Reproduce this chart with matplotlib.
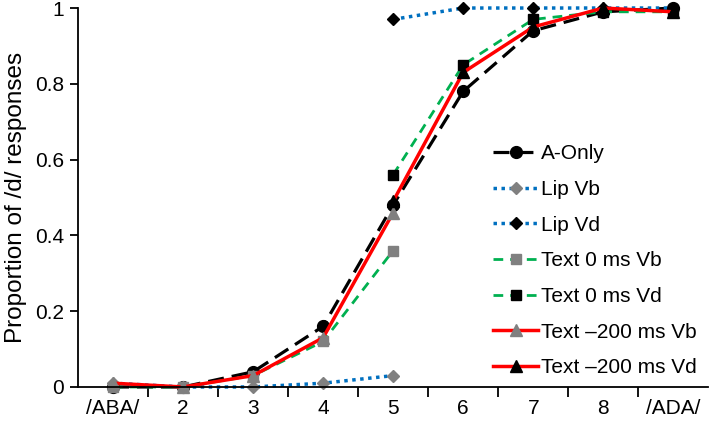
import numpy as np
import matplotlib.pyplot as plt

plt.rcParams['font.family'] = ['Liberation Sans', 'DejaVu Sans']

# Continuum steps
categories = ['/ABA/', '2', '3', '4', '5', '6', '7', '8', '/ADA/']
steps = np.arange(1, 10)

a_only = [0.0, 0.0, 0.04, 0.16, 0.48, 0.78, 0.94, 0.99, 1.0]
lip_vb = [0.01, 0.0, 0.0, 0.01, 0.03]
lip_vd = [0.97, 1.0, 1.0, 1.0, 1.0]
text0_vb = [0.0, 0.0, 0.03, 0.12, 0.36]
text0_vd = [0.56, 0.85, 0.97, 0.99, 0.99]
text200_vb = [0.01, 0.0, 0.03, 0.13, 0.46]
text200_vd = [0.49, 0.83, 0.95, 1.0, 0.99]

vb_steps = steps[:5]
vd_steps = steps[4:]

fig = plt.figure(figsize=(7.09, 4.22), dpi=100)
ax = fig.add_axes([0.110, 0.083, 0.889, 0.898])

gray = '#808080'
blue = '#0070C0'
green = '#00B050'
red = '#FF0000'

ax.plot(steps, a_only, color='black', ls=(0, (5, 2.5)), lw=2.3, marker='o', ms=8.5,
        mfc='black', mec='black', label='A-Only', clip_on=False)
ax.plot(vb_steps, lip_vb, color=blue, ls=(0, (1, 1.3)), lw=2.5, marker='D', ms=6.5,
        mfc=gray, mec=gray, label='Lip Vb', clip_on=False)
ax.plot(vd_steps, lip_vd, color=blue, ls=(0, (1, 1.3)), lw=2.5, marker='D', ms=6.5,
        mfc='black', mec='black', label='Lip Vd', clip_on=False)
ax.plot(vb_steps, text0_vb, color=green, ls=(0, (3.5, 2.5)), lw=2, marker='s', ms=7.5,
        mfc=gray, mec=gray, label='Text 0 ms Vb', clip_on=False)
ax.plot(vd_steps, text0_vd, color=green, ls=(0, (3.5, 2.5)), lw=2, marker='s', ms=7.5,
        mfc='black', mec='black', label='Text 0 ms Vd', clip_on=False)
ax.plot(vb_steps, text200_vb, color=red, ls='-', lw=2.5, marker='^', ms=8.5,
        mfc=gray, mec=gray, label='Text \u2013200 ms Vb', clip_on=False)
ax.plot(vd_steps, text200_vd, color=red, ls='-', lw=2.5, marker='^', ms=8.5,
        mfc='black', mec='black', label='Text \u2013200 ms Vd', clip_on=False)

ax.set_xlim(0.5, 9.5)
ax.set_ylim(0, 1)
ax.set_yticks([0, 0.2, 0.4, 0.6, 0.8, 1.0])
ax.set_yticklabels(['0', '0.2', '0.4', '0.6', '0.8', '1'])
ax.set_xticks(steps)
ax.set_xticklabels(categories)
ax.set_xticks(np.arange(1.5, 9.5, 1), minor=True)
ax.tick_params(axis='x', which='major', length=0, pad=9, labelsize=15)
ax.tick_params(axis='x', which='minor', length=7, width=1.3, direction='out')
ax.tick_params(axis='y', length=6, width=1.3, direction='out', labelsize=15, pad=4)

for side in ['top', 'right']:
    ax.spines[side].set_visible(False)
for side in ['left', 'bottom']:
    ax.spines[side].set_linewidth(1.3)

ax.set_ylabel('Proportion of /d/ responses', fontsize=17.5, labelpad=6)

ax.legend(loc='upper left', bbox_to_anchor=(0.629, 0.69), frameon=False, fontsize=15,
          handlelength=2.15, labelspacing=0.8, handletextpad=0.15)

plt.savefig('out.png', dpi=100)
